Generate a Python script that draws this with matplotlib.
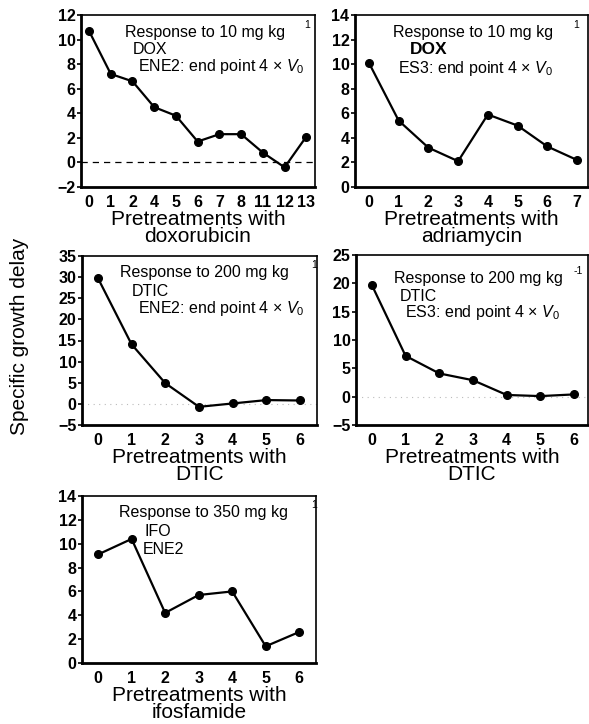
import matplotlib
matplotlib.use('Agg')
import matplotlib.pyplot as plt

plt.rcParams['font.family'] = ['Liberation Sans', 'DejaVu Sans']
plt.rcParams['mathtext.fontset'] = 'custom'
plt.rcParams['mathtext.rm'] = 'Liberation Sans'
plt.rcParams['mathtext.it'] = 'Liberation Sans:italic'

# data
dox_labels = ['0', '1', '2', '4', '5', '6', '7', '8', '11', '12', '13']
dox_delay = [10.7, 7.2, 6.6, 4.5, 3.8, 1.7, 2.3, 2.3, 0.8, -0.4, 2.1]

adr_labels = ['0', '1', '2', '3', '4', '5', '6', '7']
adr_delay = [10.1, 5.4, 3.2, 2.1, 5.9, 5.0, 3.3, 2.2]

dtic_labels = ['0', '1', '2', '3', '4', '5', '6']
dtic_ene2_delay = [29.8, 14.1, 4.9, -0.7, 0.1, 0.9, 0.8]
dtic_es3_delay = [19.7, 7.2, 4.1, 2.9, 0.3, 0.1, 0.4]

ifo_labels = ['0', '1', '2', '3', '4', '5', '6']
ifo_delay = [9.1, 10.4, 4.2, 5.7, 6.0, 1.4, 2.6]

W, H = 589, 724
fig = plt.figure(figsize=(W / 100, H / 100), dpi=100)


def px_axes(l, t, r, b):
    return fig.add_axes([l / W, 1 - b / H, (r - l) / W, (b - t) / H])


def ftext(x, y, s, **kw):
    kw.setdefault('fontsize', 11.5)
    kw.setdefault('va', 'center')
    fig.text(x / W, 1 - y / H, s, **kw)


def panel(ax, labels, vals, ylim, yticks, xlim, xlabel, zero=None):
    xs = range(len(labels))
    if zero == 'dashed':
        ax.axhline(0, color='black', lw=0.9, ls=(0, (5, 4)))
    elif zero == 'dotted':
        ax.axhline(0, color='#bbbbbb', lw=0.8, ls=(0, (1, 4)))
    ax.plot(xs, vals, color='black', lw=1.6, marker='o', ms=5.5)
    ax.set_xticks(list(xs))
    ax.set_xticklabels(labels)
    ax.set_yticks(yticks)
    ax.set_ylim(*ylim)
    ax.set_xlim(*xlim)
    ax.tick_params(axis='x', length=0, pad=6, labelsize=11.5)
    ax.tick_params(axis='y', length=3, width=1.2, pad=1, labelsize=11.5)
    for lab in ax.get_xticklabels() + ax.get_yticklabels():
        lab.set_fontweight('bold')
    for s in ['left', 'bottom']:
        ax.spines[s].set_linewidth(2.0)
    for s in ['top', 'right']:
        ax.spines[s].set_linewidth(1.2)
    ax.set_xlabel(xlabel, fontsize=15, labelpad=0, linespacing=0.85)


ax1 = px_axes(81, 15, 315, 187)
panel(ax1, dox_labels, dox_delay, (-2, 12), range(-2, 13, 2), (-0.37, 10.4),
      'Pretreatments with\ndoxorubicin', zero='dashed')

ax2 = px_axes(355, 15, 588, 187)
panel(ax2, adr_labels, adr_delay, (0, 14), range(0, 15, 2), (-0.47, 7.37),
      'Pretreatments with\nadriamycin')

ax3 = px_axes(82, 256, 317, 425)
panel(ax3, dtic_labels, dtic_ene2_delay, (-5, 35), range(-5, 36, 5), (-0.47, 6.5),
      'Pretreatments with\nDTIC', zero='dotted')

ax4 = px_axes(356, 255, 588, 425)
panel(ax4, dtic_labels, dtic_es3_delay, (-5, 25), range(-5, 26, 5), (-0.47, 6.41),
      'Pretreatments with\nDTIC', zero='dotted')

ax5 = px_axes(82, 496, 316, 663)
panel(ax5, ifo_labels, ifo_delay, (0, 14), range(0, 15, 2), (-0.48, 6.5),
      'Pretreatments with\nifosfamide')

# annotations
ftext(125, 32, 'Response to 10 mg kg')
ftext(304, 25, '1', fontsize=7.5)
ftext(133, 50, 'DOX')
ftext(138, 66, 'ENE2: end point 4 \u00d7 $V_0$')

ftext(393, 32, 'Response to 10 mg kg')
ftext(573, 25, '1', fontsize=7.5)
ftext(410, 50, 'DOX', fontweight='bold', fontsize=12.5)
ftext(398, 68, 'ES3: end point 4 \u00d7 $V_0$')

ftext(120, 273, 'Response to 200 mg kg')
ftext(311, 265, '1', fontsize=7.5)
ftext(132, 291, 'DTIC')
ftext(138, 308, 'ENE2: end point 4 \u00d7 $V_0$')

ftext(394, 278, 'Response to 200 mg kg')
ftext(574, 271, '-1', fontsize=7.5)
ftext(400, 296, 'DTIC')
ftext(405, 312, 'ES3: end point 4 \u00d7 $V_0$')

ftext(119, 513, 'Response to 350 mg kg')
ftext(311, 505, '1', fontsize=7.5)
ftext(145, 532, 'IFO')
ftext(143, 549, 'ENE2')

ftext(20, 336, 'Specific growth delay', fontsize=15, rotation=90, ha='center')

fig.savefig('out.png', dpi=100)
